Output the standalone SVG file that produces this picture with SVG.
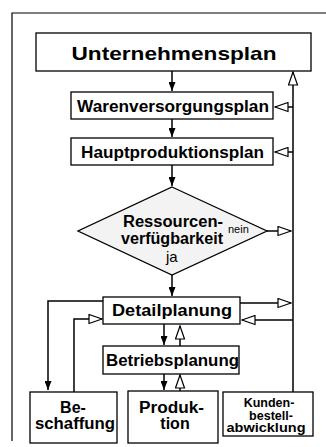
<svg xmlns="http://www.w3.org/2000/svg" width="326" height="447" viewBox="0 0 326 447">
<style>
.box{fill:#fff;stroke:#000;stroke-width:1.3}
.t{font-family:"Liberation Sans",Arial,Helvetica,sans-serif;font-weight:bold;fill:#000;text-anchor:middle}
.n{font-family:"Liberation Sans",Arial,Helvetica,sans-serif;fill:#000}
.c{fill:none;stroke:#000;stroke-width:1.5}
</style>
<defs>
<marker id="fa" viewBox="0 0 9 7" refX="9" refY="3.5" markerWidth="9" markerHeight="7" markerUnits="userSpaceOnUse" orient="auto"><path d="M0,0 L9,3.5 L0,7 z" fill="#000"/></marker>
<marker id="ha" viewBox="-1 -1 15 11" refX="13" refY="4.5" markerWidth="15" markerHeight="11" markerUnits="userSpaceOnUse" orient="auto"><path d="M0,0 L13,4.5 L0,9 z" fill="#fff" stroke="#000" stroke-width="1.2"/></marker>
</defs>
<rect width="326" height="447" fill="#fff"/>
<path d="M12,441 V13 H326" fill="none" stroke="#000" stroke-width="1.2"/>
<g id="connectors">
<path class="c" d="M172,71 V91" marker-end="url(#fa)"/>
<path class="c" d="M172,119 V137" marker-end="url(#fa)"/>
<path class="c" d="M172,165 V186" marker-end="url(#fa)"/>
<path class="c" d="M172,275 V296" marker-end="url(#fa)"/>
<path class="c" d="M267,231 H291" marker-end="url(#ha)"/>
<path class="c" d="M293,392 V72" marker-end="url(#ha)"/>
<path class="c" d="M293,107 H275" marker-end="url(#ha)"/>
<path class="c" d="M293,152 H275" marker-end="url(#ha)"/>
<path class="c" d="M240,303 H291" marker-end="url(#ha)"/>
<path class="c" d="M293,320 H242" marker-end="url(#ha)"/>
<path class="c" d="M103,301 H48 V390" marker-end="url(#fa)"/>
<path class="c" d="M74,392 V319 H102" marker-end="url(#ha)"/>
<path class="c" d="M164,324 V345" marker-end="url(#fa)"/>
<path class="c" d="M180,346 V326" marker-end="url(#ha)"/>
<path class="c" d="M164,374 V390" marker-end="url(#fa)"/>
<path class="c" d="M180,391 V375" marker-end="url(#ha)"/>
</g>
<g id="unternehmensplan">
<rect class="box" x="36" y="33" width="275" height="38"/>
<text class="t" x="174" y="60" font-size="19" textLength="205" lengthAdjust="spacingAndGlyphs">Unternehmensplan</text>
</g>
<g id="warenversorgungsplan">
<rect class="box" x="71" y="92" width="202" height="27"/>
<text class="t" x="173" y="112" font-size="16.5" textLength="192" lengthAdjust="spacingAndGlyphs">Warenversorgungsplan</text>
</g>
<g id="hauptproduktionsplan">
<rect class="box" x="71" y="138" width="202" height="27"/>
<text class="t" x="172.5" y="158" font-size="16.5" textLength="183" lengthAdjust="spacingAndGlyphs">Hauptproduktionsplan</text>
</g>
<g id="ressourcen">
<polygon points="172,187 267,231 172,275 78,231" fill="#f3f3f3" stroke="#000" stroke-width="1.3"/>
<text class="t" x="173" y="227" font-size="16" textLength="100" lengthAdjust="spacingAndGlyphs">Ressourcen-</text>
<text class="t" x="172" y="244" font-size="16" textLength="102" lengthAdjust="spacingAndGlyphs">verfügbarkeit</text>
<text class="n" x="228" y="233" font-size="11">nein</text>
<text class="n" x="166" y="262" font-size="15">ja</text>
</g>
<g id="detailplanung">
<rect class="box" x="103" y="297" width="137" height="27"/>
<text class="t" x="172" y="316" font-size="16.5" textLength="120" lengthAdjust="spacingAndGlyphs">Detailplanung</text>
</g>
<g id="betriebsplanung">
<rect class="box" x="103" y="346" width="136" height="28"/>
<text class="t" x="172.5" y="366" font-size="16.5" textLength="133" lengthAdjust="spacingAndGlyphs">Betriebsplanung</text>
</g>
<g id="beschaffung">
<rect class="box" x="30" y="392" width="87" height="51"/>
<text class="t" x="73" y="413" font-size="16">Be-</text>
<text class="t" x="75" y="429" font-size="16" textLength="80" lengthAdjust="spacingAndGlyphs">schaffung</text>
</g>
<g id="produktion">
<rect class="box" x="128" y="391" width="90" height="52"/>
<text class="t" x="171.5" y="413" font-size="16" textLength="65" lengthAdjust="spacingAndGlyphs">Produk-</text>
<text class="t" x="175" y="429" font-size="16">tion</text>
</g>
<g id="kundenbestellabwicklung">
<rect class="box" x="223" y="392" width="90" height="44"/>
<text class="t" x="269" y="407" font-size="12.5">Kunden-</text>
<text class="t" x="271" y="419.5" font-size="12.5">bestell-</text>
<text class="t" x="266" y="432" font-size="12.5" textLength="79" lengthAdjust="spacingAndGlyphs">abwicklung</text>
</g>
</svg>
